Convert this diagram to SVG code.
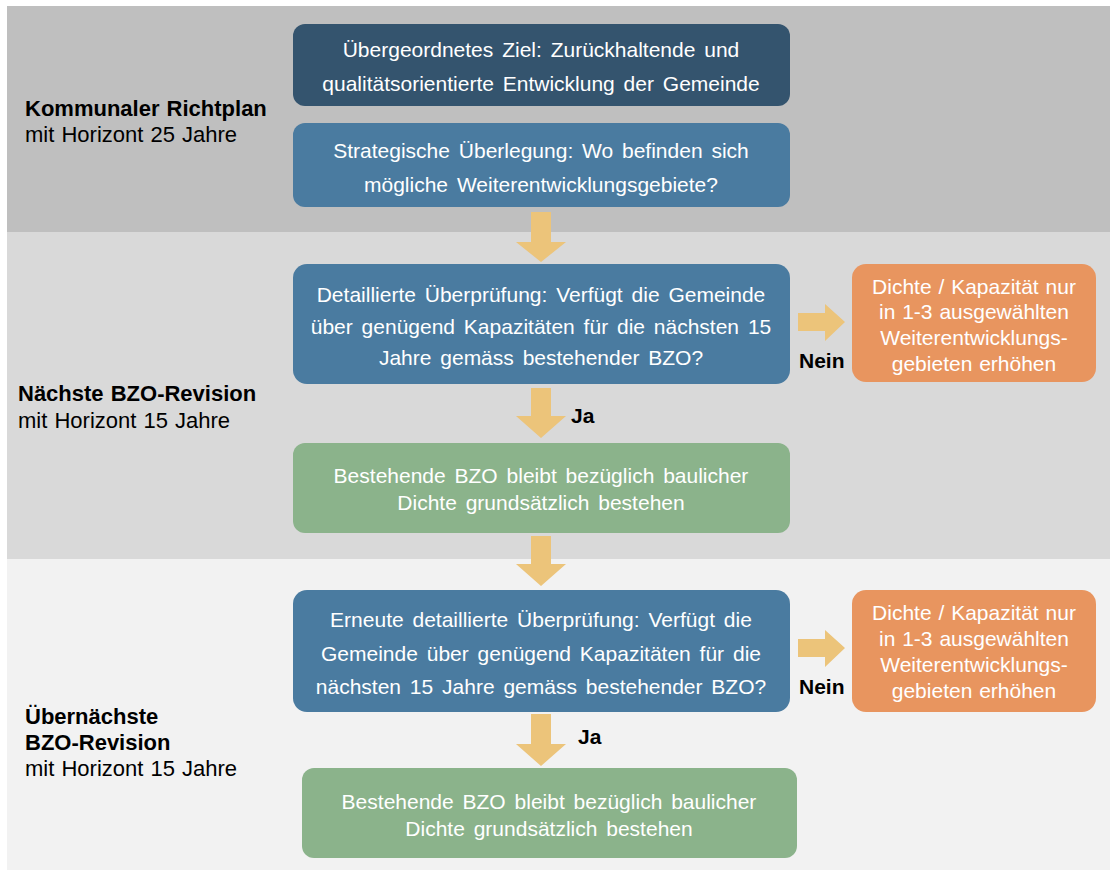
<svg xmlns="http://www.w3.org/2000/svg" width="1110" height="870" viewBox="0 0 1110 870">
<style>
.t{font-family:"Liberation Sans",Arial,sans-serif;font-size:21px;fill:#fff;text-anchor:middle;word-spacing:3px}
.o{word-spacing:1px}
.l{font-family:"Liberation Sans",Arial,sans-serif;font-size:22px;fill:#000;word-spacing:1px}
.b{font-weight:bold}
.n{font-family:"Liberation Sans",Arial,sans-serif;font-size:21px;font-weight:bold;fill:#000}
.arr{fill:#ecc47a}
</style>
<rect x="0" y="0" width="1110" height="870" fill="#fff"/>
<g id="bands">
<rect x="7" y="6" width="1103" height="226" fill="#bfbfbf"/>
<rect x="7" y="232" width="1103" height="327" fill="#d9d9d9"/>
<rect x="7" y="559" width="1103" height="311" fill="#f2f2f2"/>
</g>
<g id="lbl1"><text class="l b" x="25" y="116">Kommunaler Richtplan</text><text class="l" x="25" y="142">mit Horizont 25 Jahre</text></g>
<g id="lbl2"><text class="l b" x="18" y="401">Nächste BZO-Revision</text><text class="l" x="18" y="428">mit Horizont 15 Jahre</text></g>
<g id="lbl3"><text class="l b" x="25" y="724">Übernächste</text><text class="l b" x="25" y="750">BZO-Revision</text><text class="l" x="25" y="776">mit Horizont 15 Jahre</text></g>
<g id="n1"><rect x="293" y="24" width="497" height="82" rx="12" fill="#34546e"/><text class="t" x="541" y="57">Übergeordnetes Ziel: Zurückhaltende und</text><text class="t" x="541" y="91">qualitätsorientierte Entwicklung der Gemeinde</text></g>
<g id="n2"><rect x="293" y="123" width="497" height="84" rx="12" fill="#4a7ba0"/><text class="t" x="541" y="158">Strategische Überlegung: Wo befinden sich</text><text class="t" x="541" y="192">mögliche Weiterentwicklungsgebiete?</text></g>
<g id="n3"><rect x="293" y="264" width="497" height="120" rx="14" fill="#4a7ba0"/><text class="t" x="541" y="302">Detaillierte Überprüfung: Verfügt die Gemeinde</text><text class="t" x="541" y="334">über genügend Kapazitäten für die nächsten 15</text><text class="t" x="541" y="365">Jahre gemäss bestehender BZO?</text></g>
<g id="n4"><rect x="852" y="264" width="244" height="118" rx="14" fill="#e8955f"/><text class="t o" x="974" y="294">Dichte / Kapazität nur</text><text class="t o" x="974" y="319">in 1-3 ausgewählten</text><text class="t o" x="974" y="345">Weiterentwicklungs-</text><text class="t o" x="974" y="371">gebieten erhöhen</text></g>
<g id="n5"><rect x="293" y="443" width="497" height="90" rx="12" fill="#8bb38b"/><text class="t" x="541" y="483">Bestehende BZO bleibt bezüglich baulicher</text><text class="t" x="541" y="510">Dichte grundsätzlich bestehen</text></g>
<g id="n6"><rect x="293" y="590" width="497" height="122" rx="14" fill="#4a7ba0"/><text class="t" x="541" y="627">Erneute detaillierte Überprüfung: Verfügt die</text><text class="t" x="541" y="661">Gemeinde über genügend Kapazitäten für die</text><text class="t" x="541" y="694">nächsten 15 Jahre gemäss bestehender BZO?</text></g>
<g id="n7"><rect x="852" y="590" width="244" height="122" rx="14" fill="#e8955f"/><text class="t o" x="974" y="620">Dichte / Kapazität nur</text><text class="t o" x="974" y="646">in 1-3 ausgewählten</text><text class="t o" x="974" y="672">Weiterentwicklungs-</text><text class="t o" x="974" y="698">gebieten erhöhen</text></g>
<g id="n8"><rect x="302" y="768" width="495" height="90" rx="12" fill="#8bb38b"/><text class="t" x="549" y="809">Bestehende BZO bleibt bezüglich baulicher</text><text class="t" x="549" y="836">Dichte grundsätzlich bestehen</text></g>
<g id="connectors">
<polygon class="arr" points="531,212 551,212 551,242 566,242 541,262 516,242 531,242"/>
<polygon class="arr" points="798,313 825,313 825,304 845,322 825,341 825,331 798,331"/>
<text class="n" x="799" y="368">Nein</text>
<polygon class="arr" points="531,388 551,388 551,416 566,416 541,438 516,416 531,416"/>
<text class="n" x="571" y="423">Ja</text>
<polygon class="arr" points="531,536 551,536 551,564 566,564 541,586 516,564 531,564"/>
<polygon class="arr" points="798,639 825,639 825,630 845,648 825,667 825,657 798,657"/>
<text class="n" x="799" y="694">Nein</text>
<polygon class="arr" points="531,714 551,714 551,744 566,744 541,766 516,744 531,744"/>
<text class="n" x="578" y="744">Ja</text>
</g>
</svg>
